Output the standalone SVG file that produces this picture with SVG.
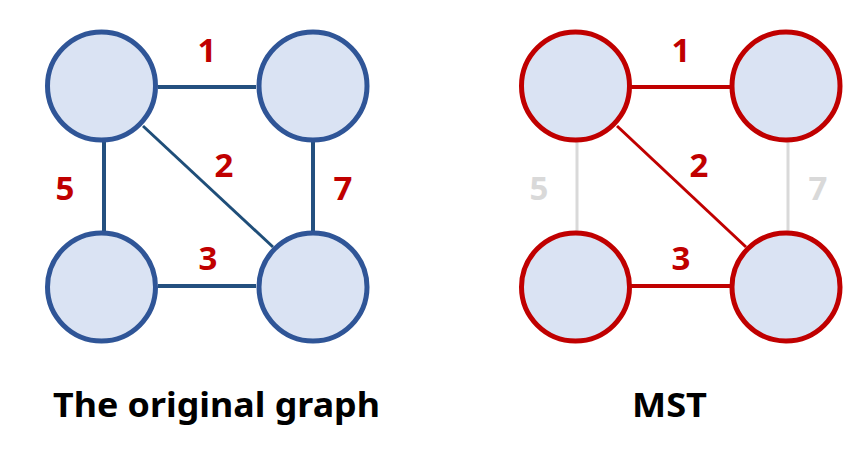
<svg xmlns="http://www.w3.org/2000/svg" width="866" height="449" viewBox="0 0 866 449">
<style>
.nb{fill:#dae3f3;stroke:#2f5597;stroke-width:5}
.nr{fill:#dae3f3;stroke:#c00000;stroke-width:5}
.eb{stroke:#24507f;stroke-width:4;fill:none}
.ebd{stroke:#1f4e79;stroke-width:3;fill:none}
.er{stroke:#c00000;stroke-width:4;fill:none}
.erd{stroke:#c00000;stroke-width:3;fill:none}
.eg{stroke:#d9d9d9;stroke-width:3;fill:none}
.w{font-family:"Noto Sans","Open Sans",sans-serif;font-weight:bold;font-size:33px;fill:#c00000;text-anchor:middle}
.wg{fill:#d9d9d9}
.t{font-family:"Noto Sans","Open Sans",sans-serif;font-weight:bold;font-size:34px;fill:#000}
</style>
<g id="connectors">
<line class="eb" x1="158" y1="87" x2="256" y2="87"/>
<line class="eb" x1="104" y1="142" x2="104" y2="231"/>
<line class="eb" x1="313" y1="142" x2="313" y2="231"/>
<line class="eb" x1="158" y1="286" x2="256" y2="286"/>
<line class="ebd" x1="143" y1="126" x2="273" y2="247"/>
<line class="er" x1="631" y1="87" x2="730" y2="87"/>
<line class="eg" x1="577" y1="142" x2="577" y2="231"/>
<line class="eg" x1="788" y1="142" x2="788" y2="231"/>
<line class="er" x1="631" y1="286" x2="730" y2="286"/>
<line class="erd" x1="617" y1="126" x2="746" y2="247"/>
</g>
<g id="left-tl"><circle class="nb" cx="101.5" cy="86" r="54"/></g>
<g id="left-tr"><circle class="nb" cx="313" cy="86" r="54"/></g>
<g id="left-bl"><circle class="nb" cx="101.5" cy="287" r="54"/></g>
<g id="left-br"><circle class="nb" cx="313" cy="287" r="54"/></g>
<g id="right-tl"><circle class="nr" cx="575.5" cy="86" r="54"/></g>
<g id="right-tr"><circle class="nr" cx="786" cy="86" r="54"/></g>
<g id="right-bl"><circle class="nr" cx="575.5" cy="287" r="54"/></g>
<g id="right-br"><circle class="nr" cx="786" cy="287" r="54"/></g>
<g id="weights">
<text class="w" x="207" y="62">1</text>
<text class="w" x="224" y="177">2</text>
<text class="w" x="65" y="200">5</text>
<text class="w" x="343" y="200">7</text>
<text class="w" x="208" y="270">3</text>
<text class="w" x="681" y="62">1</text>
<text class="w" x="699" y="177">2</text>
<text class="w wg" x="539" y="200">5</text>
<text class="w wg" x="818" y="200">7</text>
<text class="w" x="681" y="270">3</text>
</g>
<g id="titles">
<text class="t" x="53" y="417" textLength="327" lengthAdjust="spacingAndGlyphs">The original graph</text>
<text class="t" x="632" y="417" textLength="75" lengthAdjust="spacingAndGlyphs">MST</text>
</g>
</svg>
